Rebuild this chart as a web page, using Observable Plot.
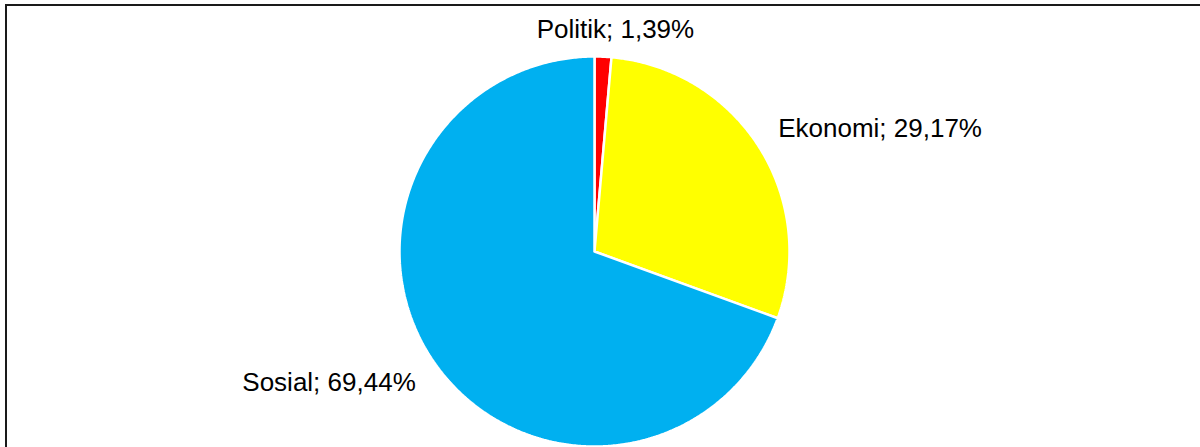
<!DOCTYPE html>
<html>
<head>
<meta charset="utf-8">
<script src="https://cdn.jsdelivr.net/npm/d3@7"></script>
<script src="https://cdn.jsdelivr.net/npm/@observablehq/plot@0.6"></script>
<style>
  html, body { margin: 0; padding: 0; background: #fff; overflow: hidden; }
  #wrap { position: relative; width: 1200px; height: 447px; }
  #frame { position: absolute; left: 5px; top: 4px; width: 1200px; height: 500px; border: 2px solid #1a1a1a; box-sizing: border-box; pointer-events: none; }
  #chart { position: absolute; left: 0; top: 0; }
</style>
</head>
<body>
<div id="wrap"><div id="chart"></div><div id="frame"></div></div>
<script>
const categories = ["Politik", "Ekonomi", "Sosial"];
const values = [1.39, 29.17, 69.44];
const colors = ["#FF0000", "#FFFF00", "#00B0F0"];
const labels = ["Politik; 1,39%", "Ekonomi; 29,17%", "Sosial; 69,44%"];

const cx = 594, cy = 251, R = 195;
const W = 1200, H = 447;

const arcs = d3.pie().sort(null).value(d => d)(values);

// build polygon outlines in unit coordinates (angle 0 = top, clockwise)
function slicePoints(a0, a1, cat) {
  const pts = [{x: 0, y: 0, cat}];
  const n = Math.max(2, Math.ceil((a1 - a0) / (Math.PI / 360)));
  for (let i = 0; i <= n; i++) {
    const a = a0 + (a1 - a0) * i / n;
    pts.push({x: Math.sin(a), y: Math.cos(a), cat});
  }
  pts.push({x: 0, y: 0, cat});
  return pts;
}

const sliceMarks = arcs.map((a, i) =>
  Plot.line(slicePoints(a.startAngle, a.endAngle, categories[i]), {
    x: "x", y: "y", fill: colors[i], stroke: "white", strokeWidth: 2.5, strokeLinejoin: "miter", curve: "linear"
  })
);

// label anchors: mid-angle at just outside the pie
const labelData = arcs.map((a, i) => {
  const m = (a.startAngle + a.endAngle) / 2;
  return {x: Math.sin(m) * 1.05, y: Math.cos(m) * 1.05, label: labels[i], m};
});

function anchorFor(d) {
  const s = Math.sin(d.m);
  if (Math.abs(s) < 0.2) return "middle";
  return s > 0 ? "start" : "end";
}

const textMarks = labelData.map(d => {
  const anchor = anchorFor(d);
  let dx = 0, dy = 0;
  if (anchor === "middle") { dx = 12; dy = -17; }
  else if (anchor === "start") { dx = 11; dy = -13; }
  else { dx = -11; dy = 14; }
  return Plot.text([d], {x: "x", y: "y", text: "label", textAnchor: anchor, dx, dy,
    fontSize: 26, fill: "#000", fontFamily: "Liberation Sans, Arial, sans-serif"});
});

const chart = Plot.plot({
  width: W, height: H,
  margin: 0,
  style: {background: "transparent", fontFamily: "Liberation Sans, Arial, sans-serif"},
  x: {domain: [-1, 1], range: [cx - R, cx + R], axis: null},
  y: {domain: [-1, 1], range: [cy + R, cy - R], axis: null},
  marks: [...sliceMarks, ...textMarks]
});
document.getElementById("chart").appendChild(chart);
</script>
</body>
</html>
